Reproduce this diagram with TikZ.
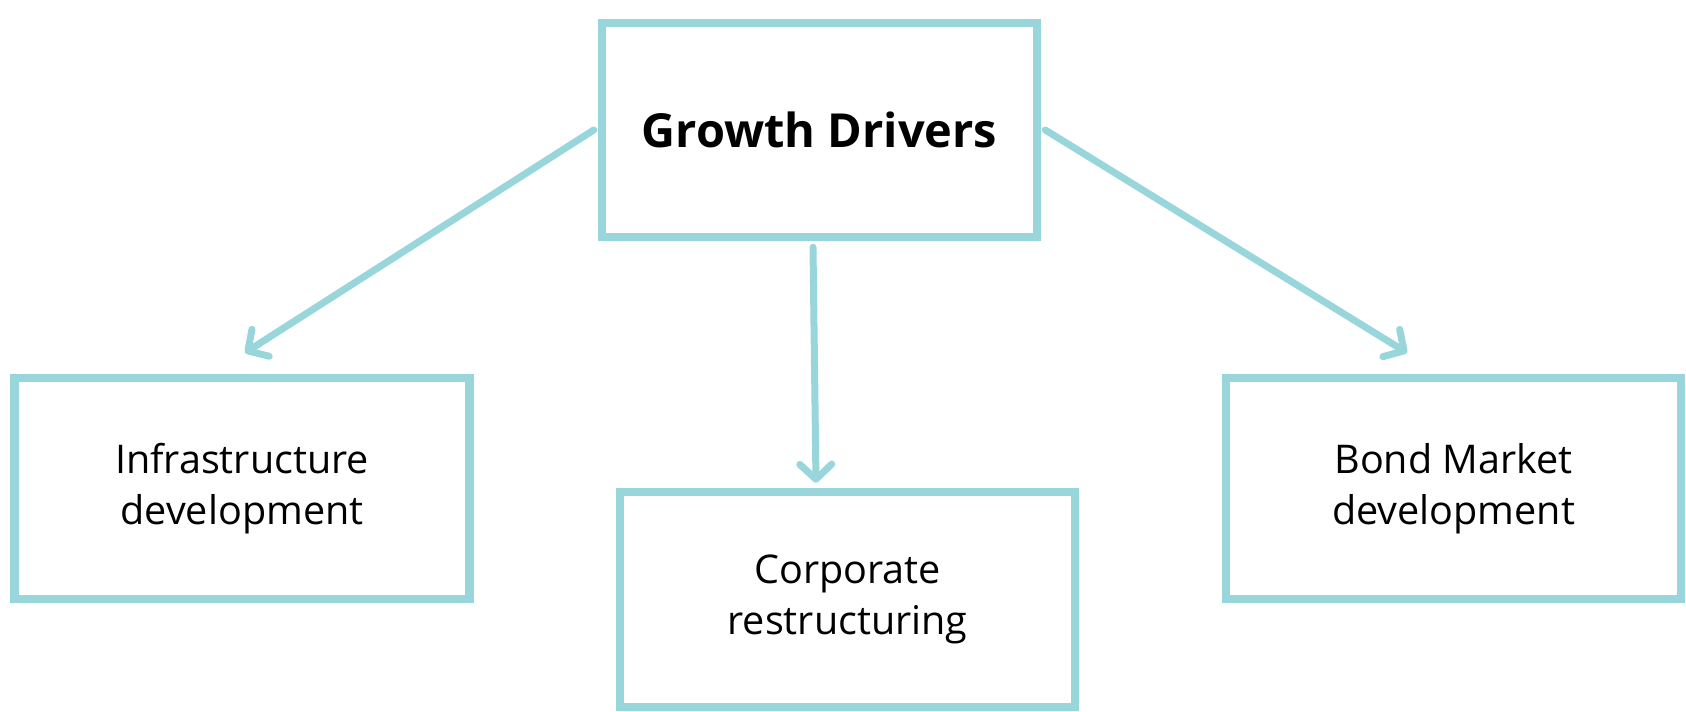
\documentclass[tikz,border=0pt]{standalone}
\usepackage{fontspec}
\setmainfont{Open Sans}
\usetikzlibrary{arrows.meta}
\definecolor{driverteal}{RGB}{152,214,219}

\begin{document}
\begin{tikzpicture}[
		box/.style={draw=driverteal, line width=0.17cm, align=center, inner sep=0pt},
		arr/.style={draw=driverteal, line width=0.14cm, line cap=round, -{Straight Barb[length=0.3cm, width=0.64cm, round]}},
		small/.style={font=\fontsize{22.5}{29}\selectfont}
	]
			%%%%% START %%%%%
			
			\useasboundingbox (0, 0) rectangle (33.72, 14.24);
			
			\node[box, minimum width=8.7cm, minimum height=4.28cm, font=\fontsize{26.7}{34}\selectfont\bfseries] (growth) at (16.39, 11.64) {Growth Drivers};
			
			\node[box, small, minimum width=9.09cm, minimum height=4.42cm] (infra) at (4.84, 4.47) {Infrastructure\\development};
			\node[box, small, minimum width=9.1cm, minimum height=4.3cm] (corp) at (16.95, 2.25) {Corporate\\restructuring};
			\node[box, small, minimum width=9.1cm, minimum height=4.42cm] (bond) at (29.07, 4.47) {Bond Market\\development};
			
			\draw[arr] ([xshift=-0.08cm]growth.west) -- ([xshift=0.06cm, yshift=0.42cm]infra.north);
			\draw[arr] ([xshift=-0.13cm, yshift=-0.12cm]growth.south) -- ([xshift=-0.63cm, yshift=0.1cm]corp.north);
			\draw[arr] ([xshift=0.08cm]growth.east) -- ([xshift=-0.93cm, yshift=0.42cm]bond.north);
			
			%%%%% END %%%%%
		\end{tikzpicture}
\end{document}
